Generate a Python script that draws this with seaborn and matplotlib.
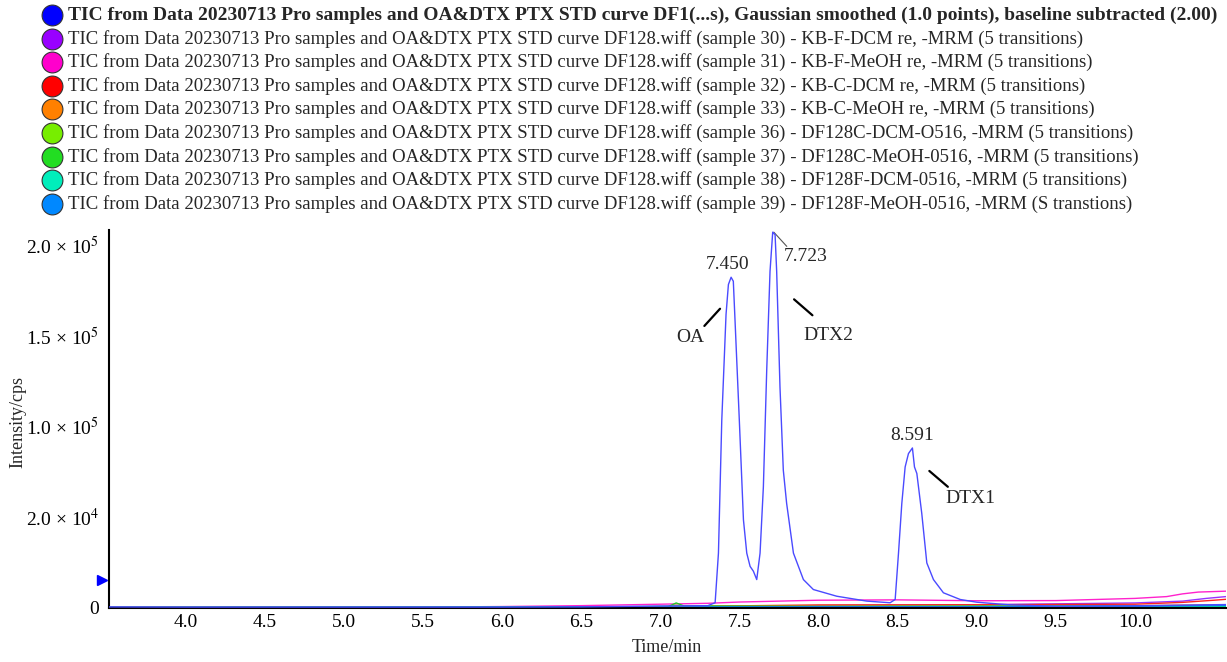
import matplotlib
matplotlib.use("Agg")
import matplotlib.pyplot as plt
import seaborn as sns
import pandas as pd

# ---------------- data ----------------
series_labels = [
    "TIC from Data 20230713 Pro samples and OA&DTX PTX STD curve DF1(...s), Gaussian smoothed (1.0 points), baseline subtracted (2.00)",
    "TIC from Data 20230713 Pro samples and OA&DTX PTX STD curve DF128.wiff (sample 30) - KB-F-DCM re, -MRM (5 transitions)",
    "TIC from Data 20230713 Pro samples and OA&DTX PTX STD curve DF128.wiff (sample 31) - KB-F-MeOH re, -MRM (5 transitions)",
    "TIC from Data 20230713 Pro samples and OA&DTX PTX STD curve DF128.wiff (sample 32) - KB-C-DCM re, -MRM (5 transitions)",
    "TIC from Data 20230713 Pro samples and OA&DTX PTX STD curve DF128.wiff (sample 33) - KB-C-MeOH re, -MRM (5 transitions)",
    "TIC from Data 20230713 Pro samples and OA&DTX PTX STD curve DF128.wiff (sample 36) - DF128C-DCM-O516, -MRM (5 transitions)",
    "TIC from Data 20230713 Pro samples and OA&DTX PTX STD curve DF128.wiff (sample 37) - DF128C-MeOH-0516, -MRM (5 transitions)",
    "TIC from Data 20230713 Pro samples and OA&DTX PTX STD curve DF128.wiff (sample 38) - DF128F-DCM-0516, -MRM (5 transitions)",
    "TIC from Data 20230713 Pro samples and OA&DTX PTX STD curve DF128.wiff (sample 39) - DF128F-MeOH-0516, -MRM (S transtions)",
]
legend_colors = ["#0000FF", "#9900FF", "#FF00CC", "#FF0000", "#FF8000",
                 "#77EE00", "#22DD22", "#00EEBB", "#0088FF"]
line_colors = ["#4A4AFF", "#9933FF", "#FF22CC", "#FF2222", "#FF8800",
               "#88DD00", "#22CC22", "#00DDAA", "#1177EE"]

tic_time = [3.515, 4.0, 5.0, 6.0, 6.5, 7.0, 7.3, 7.346, 7.367, 7.388, 7.415, 7.43,
            7.447, 7.461, 7.472, 7.499, 7.525, 7.546, 7.567, 7.588, 7.609, 7.630,
            7.651, 7.672, 7.693, 7.710, 7.725, 7.735, 7.756, 7.777, 7.798, 7.841,
            7.904, 7.967, 8.115, 8.305, 8.452, 8.484, 8.505, 8.526, 8.547, 8.568,
            8.593, 8.606, 8.621, 8.652, 8.684, 8.726, 8.789, 8.895, 9.0, 9.2, 9.5,
            10.0, 10.3, 10.575]
tic_int = [300, 200, 200, 200, 300, 800, 1000, 2600, 30000, 103300, 161900, 178400,
           182400, 180200, 158200, 103300, 48400, 30000, 22700, 20000, 15400, 30000,
           66700, 130800, 185700, 207300, 205900, 185700, 121600, 75800, 57500, 30000,
           15400, 9900, 6200, 3500, 2600, 4400, 30000, 57500, 77600, 85000,
           88100, 77600, 74000, 52000, 24600, 15400, 8100, 4400, 2900, 1500, 700,
           900, 1300, 1600]

s30_time = [3.515, 6.0, 7.0, 8.0, 9.0, 10.0, 10.3, 10.45, 10.575]
s30_int = [0, 200, 500, 1000, 1500, 2500, 3500, 5000, 6000]
s31_time = [3.515, 5.5, 6.0, 6.5, 7.0, 7.3, 7.5, 8.0, 8.5, 9.0, 9.5, 10.0, 10.2, 10.3, 10.4, 10.575]
s31_int = [0, 200, 500, 1000, 1800, 2300, 3000, 4000, 4200, 3700, 3800, 5000, 6000, 7500, 8500, 9000]
s32_time = [3.515, 6.0, 7.0, 8.0, 9.0, 10.0, 10.3, 10.5, 10.575]
s32_int = [0, 100, 400, 1400, 1500, 1800, 2800, 4000, 4500]
s33_time = [3.515, 6.5, 8.0, 10.0, 10.575]
s33_int = [0, 200, 500, 1000, 1500]
s36_time = [3.515, 6.5, 7.05, 7.1, 7.15, 8.0, 10.575]
s36_int = [0, 200, 600, 1200, 700, 600, 1000]
s37_time = [3.515, 6.5, 7.05, 7.1, 7.15, 8.0, 10.575]
s37_int = [0, 200, 500, 2500, 800, 500, 800]
s38_time = [3.515, 7.0, 10.575]
s38_int = [0, 200, 600]
s39_time = [3.515, 7.0, 10.0, 10.575]
s39_int = [0, 200, 700, 1200]

x_ticks = [4.0, 4.5, 5.0, 5.5, 6.0, 6.5, 7.0, 7.5, 8.0, 8.5, 9.0, 9.5, 10.0]
y_ticks = [0, 50000, 100000, 150000, 200000]
y_tick_labels = ["0", "2.0 × 10$^{4}$", "1.0 × 10$^{5}$", "1.5 × 10$^{5}$", "2.0 × 10$^{5}$"]

peak_labels = [("7.450", 7.422, 189600), ("7.723", 7.921, 194000), ("8.591", 8.589, 95050)]
name_labels = [("OA", 7.188, 149100), ("DTX2", 8.062, 150000), ("DTX1", 8.958, 60400)]
leaders = [((7.717, 207300), (7.799, 199450)),
           ((7.278, 155500), (7.377, 165000)),
           ((7.845, 170200), (7.961, 161400)),
           ((8.700, 75400), (8.817, 66650))]

# ---------------- build table ----------------
all_series = [(tic_time, tic_int), (s30_time, s30_int), (s31_time, s31_int),
              (s32_time, s32_int), (s33_time, s33_int), (s36_time, s36_int),
              (s37_time, s37_int), (s38_time, s38_int), (s39_time, s39_int)]
rows = []
for k, (tt, ii) in enumerate(all_series):
    for t, v in zip(tt, ii):
        rows.append({"time": t, "intensity": v, "series": k})
df = pd.DataFrame(rows)

# ---------------- figure ----------------
sns.set_theme(style="white")
plt.rcParams["font.family"] = ["Liberation Serif", "DejaVu Serif"]
plt.rcParams["mathtext.fontset"] = "stix"

fig = plt.figure(figsize=(12.27, 6.62), dpi=100)
ax = fig.add_axes([109 / 1227, 1 - 608 / 662, (1226 - 109) / 1227, (608 - 230) / 662])

order = [2, 1, 3, 4, 5, 6, 7, 8, 0]
for k in order:
    sub = df[df["series"] == k]
    sns.lineplot(data=sub, x="time", y="intensity", color=line_colors[k],
                 linewidth=1.0, ax=ax, sort=False, estimator=None, legend=False,
                 zorder=3 if k == 0 else 2)

ax.set_xlim(3.515, 10.575)
ax.set_ylim(-300, 208500)
ax.set_xticks(x_ticks)
ax.set_xticklabels([f"{v:.1f}" for v in x_ticks])
ax.set_yticks(y_ticks)
ax.set_yticklabels(y_tick_labels)
ax.tick_params(axis="both", direction="in", length=5, width=1.2, colors="black",
               labelsize=14)
ax.tick_params(axis="y", pad=7)
ax.tick_params(axis="x", pad=4)
for side in ["top", "right"]:
    ax.spines[side].set_visible(False)
for side in ["left", "bottom"]:
    ax.spines[side].set_color("black")
    ax.spines[side].set_linewidth(1.5)
ax.set_xlabel("")
ax.set_ylabel("")
fig.text(667 / 1227, 1 - 647 / 662, "Time/min", ha="center", va="center", fontsize=13)
fig.text(18 / 1227, 1 - 422 / 662, "Intensity/cps", ha="center", va="center",
         rotation=90, fontsize=13)

# small blue arrow marker on the y axis
ax.plot([-0.006], [15400], marker=">", color="#0000FF", markersize=7,
        transform=ax.get_yaxis_transform(), clip_on=False)

for txt, t, v in peak_labels:
    ax.text(t, v, txt, ha="center", va="center", fontsize=14)
for txt, t, v in name_labels:
    ax.text(t, v, txt, ha="center", va="center", fontsize=14)
for (p0, p1) in leaders[:1]:
    ax.plot([p0[0], p1[0]], [p0[1], p1[1]], color="#555555", linewidth=0.8)
for (p0, p1) in leaders[1:]:
    ax.plot([p0[0], p1[0]], [p0[1], p1[1]], color="black", linewidth=1.6)

# header legend
for k, lab in enumerate(series_labels):
    yy = 1 - (15 + 23.6 * k) / 662
    fig.text(68 / 1227, yy, lab, ha="left", va="center",
             fontsize=14 if k == 0 else 13.5,
             fontweight="bold" if k == 0 else "normal")
    fig.add_artist(plt.Line2D([52 / 1227], [yy], marker="o", markersize=15,
                              markerfacecolor=legend_colors[k], markeredgecolor="#333333",
                              markeredgewidth=0.8, linestyle="none",
                              transform=fig.transFigure))

fig.savefig("out.png", dpi=100)
